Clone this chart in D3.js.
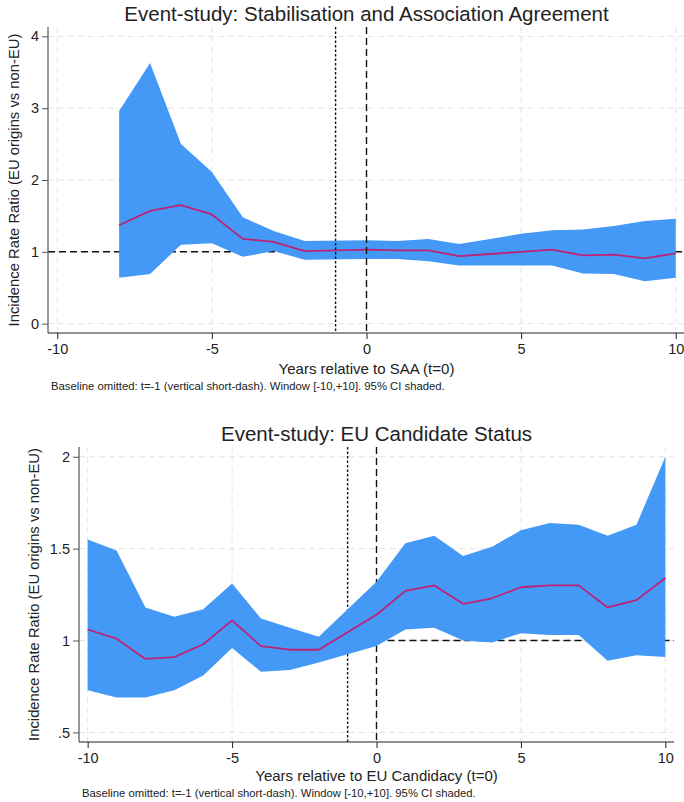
<!DOCTYPE html>
<html>
<head>
<meta charset="utf-8">
<script src="https://cdn.jsdelivr.net/npm/d3@7"></script>
<style>
  html, body { margin: 0; padding: 0; background: #fff; }
  svg { display: block; }
  text { font-family: "Liberation Sans", Arial, sans-serif; fill: #222; }
</style>
</head>
<body>
<svg id="fig" width="684" height="802"></svg>
<script>
// ---- Stabilisation and Association Agreement (SAA) event study ----
const saaYears = [-8, -7, -6, -5, -4, -3, -2, 0, 1, 2, 3, 4, 5, 6, 7, 8, 9, 10];
const saaIRR   = [1.37, 1.57, 1.65, 1.52, 1.18, 1.14, 1.01, 1.03, 1.02, 1.02, 0.94, 0.97, 1.00, 1.03, 0.95, 0.96, 0.91, 0.98];
const saaLow   = [0.64, 0.69, 1.10, 1.12, 0.93, 1.01, 0.89, 0.90, 0.90, 0.87, 0.81, 0.81, 0.81, 0.81, 0.70, 0.69, 0.59, 0.64];
const saaHigh  = [2.96, 3.63, 2.50, 2.11, 1.48, 1.29, 1.15, 1.16, 1.15, 1.18, 1.11, 1.18, 1.25, 1.30, 1.31, 1.36, 1.43, 1.46];
const saaYTicks = [0, 1, 2, 3, 4];

// ---- EU candidate status event study ----
const candYears = [-10, -9, -8, -7, -6, -5, -4, -3, -2, 0, 1, 2, 3, 4, 5, 6, 7, 8, 9, 10];
const candIRR   = [1.06, 1.01, 0.90, 0.91, 0.98, 1.11, 0.97, 0.95, 0.95, 1.14, 1.27, 1.30, 1.20, 1.23, 1.29, 1.30, 1.30, 1.18, 1.22, 1.34];
const candLow   = [0.73, 0.69, 0.69, 0.73, 0.81, 0.96, 0.83, 0.84, 0.88, 0.97, 1.06, 1.07, 1.00, 0.99, 1.04, 1.03, 1.03, 0.89, 0.92, 0.91];
const candHigh  = [1.55, 1.49, 1.18, 1.13, 1.17, 1.31, 1.12, 1.07, 1.02, 1.32, 1.53, 1.57, 1.46, 1.51, 1.60, 1.64, 1.63, 1.57, 1.63, 2.00];
const candYTicks = [0.5, 1, 1.5, 2];

const xTicks = [-10, -5, 0, 5, 10];
const yAxisTitle = "Incidence Rate Ratio (EU origins vs non-EU)";
const noteText = "Baseline omitted: t=-1 (vertical short-dash). Window [-10,+10]. 95% CI shaded.";

const BAND = "#4599f6";
const LINE = "#bd2274";
const GRID = "#e4e4e4";

const svg = d3.select("#fig");

function drawPanel(cfg) {
  const g = svg.append("g");
  const x = d3.scaleLinear().domain([-10.3, 10.3]).range([cfg.left, cfg.right]);
  const y = d3.scaleLinear().domain(cfg.yDomain).range([cfg.bottom, cfg.top]);

  const rows = cfg.years.map((t, i) => ({ t, est: cfg.est[i], lo: cfg.lo[i], hi: cfg.hi[i] }));

  // dashed light grid at major ticks
  g.append("g").selectAll("line").data(cfg.yTicks).join("line")
    .attr("x1", cfg.left).attr("x2", cfg.right)
    .attr("y1", d => y(d)).attr("y2", d => y(d))
    .attr("stroke", GRID).attr("stroke-width", 1).attr("stroke-dasharray", "6,4");
  g.append("g").selectAll("line").data(xTicks).join("line")
    .attr("x1", d => x(d)).attr("x2", d => x(d))
    .attr("y1", cfg.top).attr("y2", cfg.bottom)
    .attr("stroke", GRID).attr("stroke-width", 1).attr("stroke-dasharray", "6,4");

  // reference line at IRR = 1
  const refLine = () => g.append("line")
    .attr("x1", cfg.refFrom === null ? cfg.left : x(cfg.refFrom)).attr("x2", cfg.right)
    .attr("y1", y(1)).attr("y2", y(1))
    .attr("stroke", "#111").attr("stroke-width", 1.5).attr("stroke-dasharray", "7,4");

  // event markers: baseline year (short dash) and event year (long dash)
  const vLines = () => {
    g.append("line")
      .attr("x1", x(-1)).attr("x2", x(-1)).attr("y1", cfg.top).attr("y2", cfg.bottom)
      .attr("stroke", "#111").attr("stroke-width", 1.4).attr("stroke-dasharray", "2.5,2");
    g.append("line")
      .attr("x1", x(0)).attr("x2", x(0)).attr("y1", cfg.top).attr("y2", cfg.bottom)
      .attr("stroke", "#111").attr("stroke-width", 1.4).attr("stroke-dasharray", "7,4");
  };

  refLine();
  if (!cfg.markersOnTop) vLines();

  // 95% confidence band
  g.append("path").datum(rows)
    .attr("fill", BAND)
    .attr("d", d3.area().x(d => x(d.t)).y0(d => y(d.lo)).y1(d => y(d.hi)));

  // point estimates
  g.append("path").datum(rows)
    .attr("fill", "none").attr("stroke", LINE).attr("stroke-width", 1.8)
    .attr("stroke-linejoin", "round")
    .attr("d", d3.line().x(d => x(d.t)).y(d => y(d.est)));

  if (cfg.markersOnTop) vLines();

  // axes (plain hyphen for negative numbers)
  const yAxis = g.append("g").attr("transform", `translate(${cfg.left},0)`)
    .call(d3.axisLeft(y).tickValues(cfg.yTicks).tickFormat(cfg.yFormat).tickSize(6).tickSizeOuter(0).tickPadding(3));
  yAxis.select(".domain").attr("stroke", "#555").attr("stroke-width", 1.2)
    .attr("d", `M0,${cfg.top}V${cfg.bottom}`);
  yAxis.selectAll(".tick line").attr("stroke", "#555");
  yAxis.selectAll(".tick text").style("font-size", "14.5px").attr("fill", "#333");

  const xAxis = g.append("g").attr("transform", `translate(0,${cfg.bottom})`)
    .call(d3.axisBottom(x).tickValues(xTicks).tickFormat(d => String(d)).tickSize(6).tickSizeOuter(0).tickPadding(5));
  xAxis.select(".domain").attr("stroke", "#222").attr("stroke-width", 1.2)
    .attr("d", `M${cfg.left},0H${cfg.right}`);
  xAxis.selectAll(".tick line").attr("stroke", "#222");
  xAxis.selectAll(".tick text").style("font-size", "14.5px").attr("fill", "#333");

  // titles and note
  const cx = (cfg.left + cfg.right) / 2;
  g.append("text").attr("x", cx).attr("y", cfg.titleY)
    .attr("text-anchor", "middle").style("font-size", "20.5px").attr("fill", "#111")
    .text(cfg.title);
  g.append("text").attr("x", cx).attr("y", cfg.xTitleY)
    .attr("text-anchor", "middle").style("font-size", "15px").attr("fill", "#222")
    .text(cfg.xTitle);
  g.append("text")
    .attr("transform", `translate(${cfg.yTitleX},${(cfg.top + cfg.bottom) / 2}) rotate(-90)`)
    .attr("text-anchor", "middle").style("font-size", "14.8px").attr("fill", "#333")
    .text(yAxisTitle);
  g.append("text").attr("x", cfg.left + 3).attr("y", cfg.noteY)
    .style("font-size", "11.3px").attr("fill", "#222")
    .text(noteText);
}

drawPanel({
  title: "Event-study: Stabilisation and Association Agreement",
  xTitle: "Years relative to SAA (t=0)",
  years: saaYears, est: saaIRR, lo: saaLow, hi: saaHigh,
  yTicks: saaYTicks, yFormat: d => String(d),
  yDomain: [-0.13, 4.13],
  left: 48, right: 685, top: 27, bottom: 333,
  titleY: 21, xTitleY: 374, yTitleX: 19, noteY: 390,
  refFrom: null, markersOnTop: true
});

drawPanel({
  title: "Event-study: EU Candidate Status",
  xTitle: "Years relative to EU Candidacy (t=0)",
  years: candYears, est: candIRR, lo: candLow, hi: candHigh,
  yTicks: candYTicks, yFormat: d => (d === 0.5 ? ".5" : String(d)),
  yDomain: [0.448, 2.053],
  left: 79, right: 674, top: 447, bottom: 742,
  titleY: 441, xTitleY: 781, yTitleX: 39, noteY: 797,
  refFrom: 0, markersOnTop: false
});
</script>
</body>
</html>
